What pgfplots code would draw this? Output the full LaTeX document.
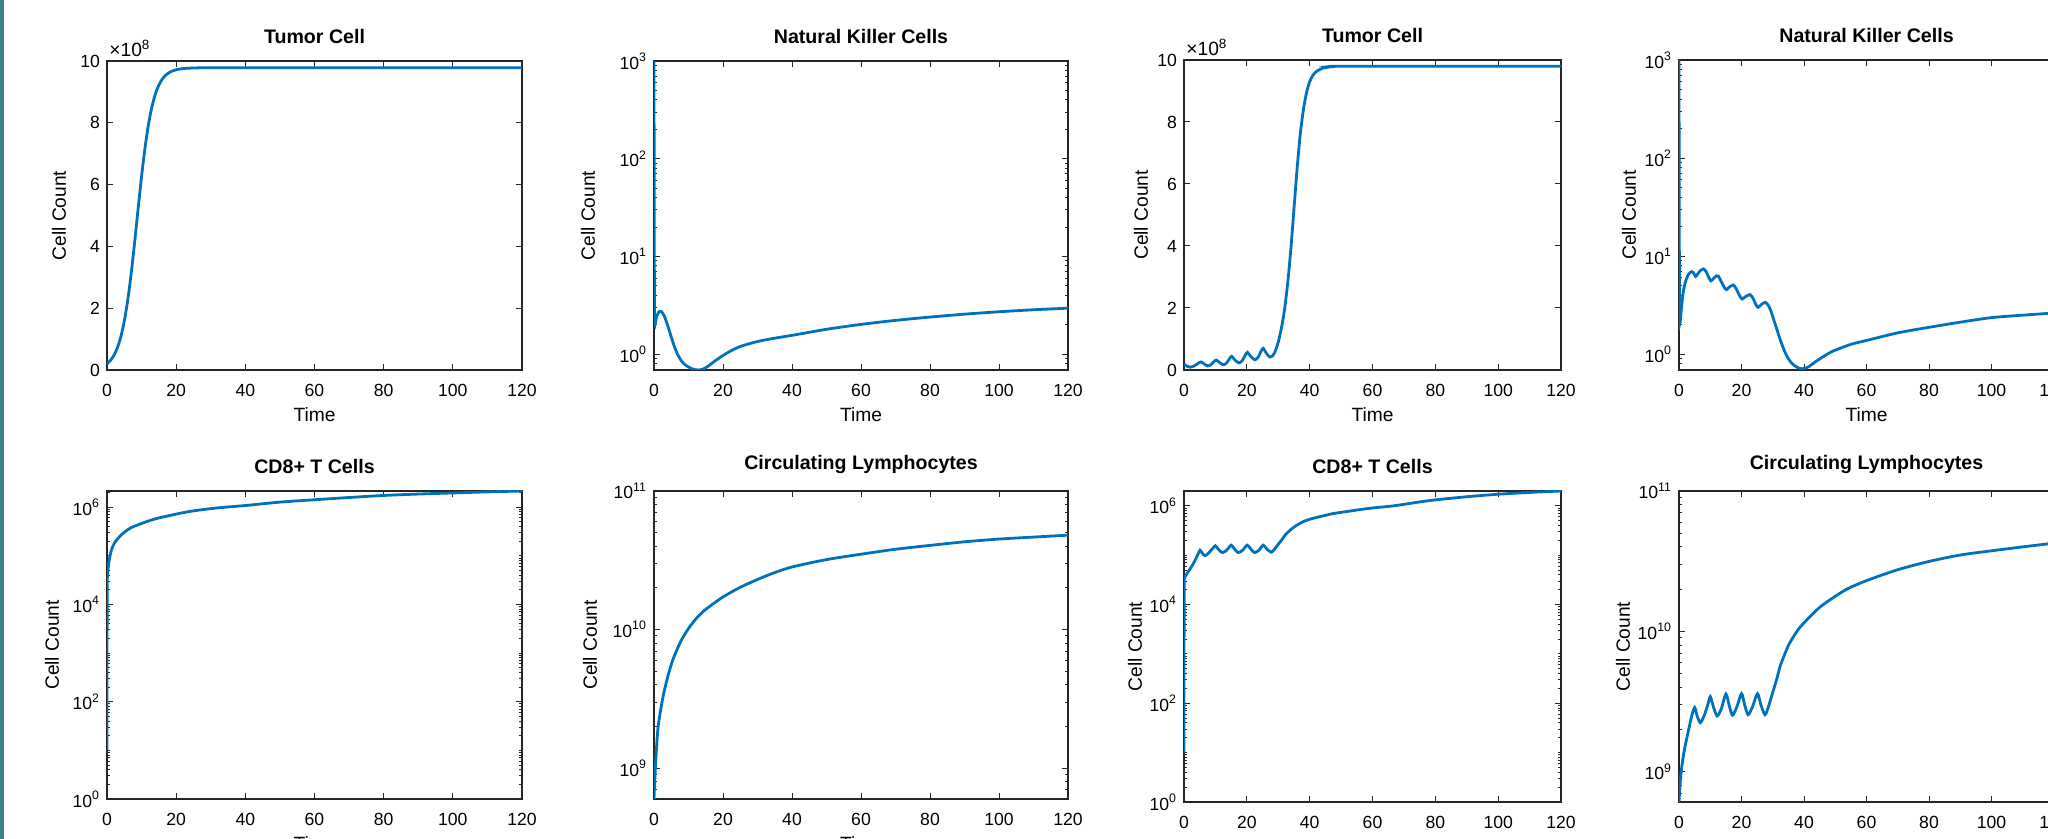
\documentclass[border=0pt]{standalone}
\usepackage{fontspec}
\setmainfont{Liberation Sans}
\usepackage{pgfplots}
\pgfplotsset{compat=1.18}
\definecolor{mblue}{HTML}{0072BD}
\definecolor{axgray}{HTML}{262626}
\definecolor{stripcol}{HTML}{3A8085}

\newcommand{\tk}[1]{10\textsuperscript{#1}}

\pgfplotsset{
  mat/.style={
    scale only axis, anchor=south west, clip mode=individual,
    xmin=0, xmax=120, xtick={0,20,...,120},
    axis line style={axgray, line width=0.6pt},
    every tick/.style={axgray, line width=0.5pt},
    tick align=inside,
    major tick length=3pt, minor tick length=1.7pt,
    tick label style={font=\fontsize{8.8}{10}\selectfont, text=black},
    xticklabel style={yshift=-3.5pt},
    yticklabel style={xshift=0pt},
    title style={font=\fontsize{9.8}{11}\selectfont\bfseries, yshift=-1pt},
    xlabel={Time}, ylabel={Cell Count},
    every axis x label/.style={at={([yshift=-18.5pt]axis description cs:0.5,0)},
      anchor=north, inner sep=0pt, font=\fontsize{9.6}{11}\selectfont},
    every axis y label/.style={at={([xshift=-#1]axis description cs:0,0.5)},
      anchor=center, rotate=90, inner sep=0pt, font=\fontsize{9.6}{11}\selectfont},
    /pgf/number format/assume math mode=true,
  },
  cv/.style={mblue, line width=1.4pt, smooth, tension=0.45, mark=none},
  /pgfplots/nkticks/.style={ymin=0.69, ymax=1000, ytick={1,10,100,1000},
    yticklabels={\tk{0},\tk{1},\tk{2},\tk{3}},
    minor ytick={0.7,0.8,0.9,2,3,4,5,6,7,8,9,20,30,40,50,60,70,80,90,200,300,400,500,600,700,800,900}},
  /pgfplots/cdticks/.style={ymin=1, ytick={1,100,1e4,1e6},
    yticklabels={\tk{0},\tk{2},\tk{4},\tk{6}},
    minor ytick={2,3,4,5,6,7,8,9,10,20,30,40,50,60,70,80,90,200,300,400,500,600,700,800,900,1000,
      2000,3000,4000,5000,6000,7000,8000,9000,2e4,3e4,4e4,5e4,6e4,7e4,8e4,9e4,1e5,
      2e5,3e5,4e5,5e5,6e5,7e5,8e5,9e5,2e6}},
  /pgfplots/clticks/.style={ymax=1e11, ytick={1e9,1e10,1e11},
    yticklabels={\tk{9},\tk{10},\tk{11}},
    minor ytick={7e8,8e8,9e8,2e9,3e9,4e9,5e9,6e9,7e9,8e9,9e9,2e10,3e10,4e10,5e10,6e10,7e10,8e10,9e10}},
}

\begin{document}
\begin{tikzpicture}
\useasboundingbox (0,0) rectangle (1024pt,419.5pt);
\clip (0,0) rectangle (1024pt,419.5pt);
\fill[stripcol] (0,0) rectangle (2.1pt,419.5pt);

% ---------- top row ----------
\begin{axis}[mat=24pt, at={(53.5pt,234.5pt)}, width=207.5pt, height=154.5pt,
  ymin=0, ymax=10, ytick={0,2,...,10}, title={Tumor Cell}]
\addplot[cv] coordinates {
(0,0.200) (1,0.309) (2,0.473) (3,0.719) (4,1.077) (5,1.584) (6,2.265) (7,3.129)
(8,4.139) (9,5.221) (10,6.271) (11,7.198) (12,7.952) (13,8.524) (14,8.936)
(15,9.222) (16,9.415) (17,9.543) (18,9.627) (19,9.681) (20,9.716) (22,9.754)
(25,9.773) (30,9.78) (60,9.78) (120,9.78)
};
\node[anchor=south west, inner sep=0pt, xshift=1pt, yshift=2pt,
  font=\fontsize{9.6}{10}\selectfont] at (rel axis cs:0,1) {×10\textsuperscript{8}};
\end{axis}

\begin{axis}[ymode=log, mat=33pt, nkticks, at={(327pt,234.5pt)}, width=207pt, height=154.5pt,
  title={Natural Killer Cells}]
\addplot[cv] coordinates {
(0,1000) (0.05,60) (0.12,4) (0.25,2.05) (0.6,2.3) (1.0,2.55) (1.6,2.75) (2.2,2.72)
(3,2.45) (4,1.95) (5,1.5) (6,1.17) (7,0.97) (8,0.85) (9,0.78) (10,0.74) (11,0.71)
(12,0.695) (13,0.69) (14,0.7) (15,0.73) (16,0.77) (18,0.87) (20,0.97) (22,1.07)
(25,1.2) (30,1.35) (35,1.46) (40,1.56) (50,1.8) (60,2.02) (70,2.22) (80,2.4)
(90,2.57) (100,2.72) (110,2.85) (120,2.96)
};
\end{axis}

\begin{axis}[mat=21.5pt, at={(592pt,234.5pt)}, width=188.5pt, height=155pt,
  ymin=0, ymax=10, ytick={0,2,...,10}, title={Tumor Cell}]
\addplot[cv] coordinates {
(0,0.19) (1,0.12) (2,0.09) (3,0.12) (4,0.18) (5,0.25) (5.5,0.26) (6.5,0.19)
(7.5,0.13) (8.5,0.16) (9.5,0.27) (10.3,0.32) (11.3,0.24) (12.5,0.17) (13.5,0.22)
(14.5,0.37) (15.2,0.44) (16.2,0.32) (17.5,0.23) (18.5,0.3) (19.5,0.48) (20.2,0.57)
(21.2,0.44) (22.5,0.33) (23.5,0.4) (24.5,0.6) (25.2,0.7) (26.2,0.54) (27.3,0.42)
(28.2,0.46) (29,0.6) (30,0.9) (31,1.35) (32,1.95) (33,2.8) (34,3.9) (35,5.2)
(36,6.5) (37,7.6) (38,8.4) (39,8.95) (40,9.3) (41,9.5) (42,9.62) (44,9.73)
(47,9.78) (52,9.8) (120,9.8)
};
\node[anchor=south west, inner sep=0pt, xshift=1pt, yshift=2pt,
  font=\fontsize{9.6}{10}\selectfont] at (rel axis cs:0,1) {×10\textsuperscript{8}};
\end{axis}

\begin{axis}[ymode=log, mat=25pt, nkticks, at={(839.5pt,234.5pt)}, width=187.5pt, height=155pt,
  title={Natural Killer Cells}]
\addplot[cv] coordinates {
(0,1000) (0.05,60) (0.15,4) (0.3,2.1) (0.8,3.0) (1.3,4.2) (2,5.4) (3,6.5) (4,6.95)
(4.6,6.8) (5.3,6.2) (6,6.6) (7,7.2) (7.8,7.4) (8.6,7.0) (9.5,6.1) (10.2,5.6)
(11,5.9) (12,6.3) (12.6,6.25) (13.5,5.5) (14.5,4.8) (15.2,4.55) (16,4.8)
(17.3,5.08) (18.2,4.7) (19.3,4.0) (20.2,3.65) (21.2,3.85) (22.7,4.05) (23.7,3.7)
(24.6,3.2) (25.3,3.0) (26.3,3.2) (27.6,3.38) (28.7,3.1) (29.5,2.7) (30.3,2.25)
(31.3,1.8) (32.3,1.43) (33.3,1.17) (34.4,0.97) (35.5,0.85) (36.6,0.78) (38,0.73)
(39.3,0.71) (40.5,0.72) (41.9,0.76) (43.5,0.83) (45.1,0.9) (47,0.98) (49.4,1.08)
(55,1.26) (60,1.38) (70,1.65) (80,1.88) (90,2.12) (100,2.36) (110,2.5) (120,2.63)
};
\end{axis}

% ---------- bottom row ----------
\begin{axis}[ymode=log, mat=27.5pt, cdticks, ymax=2.15e6, at={(53.5pt,20pt)}, width=207.5pt, height=154pt,
  title={CD8+ T Cells}]
\addplot[cv] coordinates {
(0,10) (0.02,1000) (0.05,1.5e4) (0.1,3.6e4) (0.3,5.5e4) (0.6,7.8e4) (1,1.1e5)
(1.5,1.46e5) (2.2,1.85e5) (3,2.2e5) (4,2.65e5) (5.4,3.2e5) (7,3.8e5) (9.2,4.4e5)
(12,5.2e5) (15,6e5) (20.8,7.4e5) (25,8.4e5) (30.4,9.4e5) (35,1.01e6) (40,1.08e6)
(50,1.27e6) (60,1.42e6) (70,1.58e6) (80,1.74e6) (90,1.86e6) (100,1.96e6)
(110,2.06e6) (120,2.15e6)
};
\end{axis}

\begin{axis}[ymode=log, mat=32pt, clticks, ymin=6e8, at={(327pt,20pt)}, width=207pt, height=154pt,
  title={Circulating Lymphocytes}]
\addplot[cv] coordinates {
(0,6e8) (0.2,8e8) (0.4,1.0e9) (0.8,1.5e9) (1.2,2e9) (2,2.7e9) (2.8,3.45e9)
(4,4.6e9) (5.4,6e9) (7,7.5e9) (8.5,8.9e9) (10.5,1.06e10) (12.6,1.23e10)
(15,1.4e10) (20,1.72e10) (25,2.02e10) (30,2.3e10) (35,2.58e10) (40,2.83e10)
(50,3.2e10) (60,3.5e10) (70,3.8e10) (80,4.05e10) (90,4.3e10) (100,4.5e10)
(110,4.65e10) (120,4.8e10)
};
\end{axis}

\begin{axis}[ymode=log, mat=24.5pt, cdticks, ymax=2.0e6, at={(592pt,18.5pt)}, width=188.5pt, height=155.5pt,
  title={CD8+ T Cells}]
\addplot[cv] coordinates {
(0,10) (0.02,1000) (0.05,2e4) (0.1,3.3e4) (0.8,4.1e4) (1.6,4.9e4) (3.2,7.2e4)
(4.3,1.0e5) (5.1,1.26e5) (5.8,1.1e5) (6.7,9.8e4) (7.8,1.1e5) (9,1.35e5) (10,1.55e5)
(11,1.3e5) (12.2,1.13e5) (13.5,1.25e5) (15,1.6e5) (16,1.35e5) (17.2,1.13e5)
(18.6,1.25e5) (20.1,1.6e5) (21.2,1.35e5) (22.4,1.13e5) (23.8,1.25e5) (25.2,1.6e5)
(26.3,1.35e5) (27.7,1.15e5) (28.7,1.3e5) (29.6,1.55e5) (31,2e5) (32.3,2.6e5)
(34,3.3e5) (36,4.1e5) (38,4.8e5) (40.2,5.4e5) (44,6.2e5) (47.6,7e5) (52,7.7e5)
(56,8.4e5) (61,9.2e5) (66.7,1.0e6) (75,1.2e6) (80,1.32e6) (90,1.53e6)
(100,1.72e6) (110,1.87e6) (120,2.0e6)
};
\end{axis}

\begin{axis}[ymode=log, mat=28pt, clticks, ymin=6.1e8, at={(839.5pt,18.5pt)}, width=187.5pt, height=155.5pt,
  title={Circulating Lymphocytes}]
\addplot[cv] coordinates {
(0,6.1e8) (0.3,8e8) (0.75,1.03e9) (1.5,1.35e9) (2.35,1.68e9) (3.2,2.05e9)
(4,2.47e9) (5,2.87e9) (5.8,2.5e9) (6.8,2.24e9) (8,2.5e9) (9.2,3.0e9) (10,3.43e9)
(11,2.9e9) (12.2,2.5e9) (13.5,2.8e9) (15,3.58e9) (16,3.0e9) (17.1,2.53e9)
(18.5,2.9e9) (20,3.6e9) (21,3.0e9) (22.1,2.55e9) (23.5,2.9e9) (25.1,3.6e9)
(26.2,3.0e9) (27.5,2.55e9) (28.6,2.9e9) (30.2,3.82e9) (31.3,4.6e9) (32.3,5.6e9)
(33.5,6.6e9) (35,7.95e9) (36.8,9.3e9) (38.7,1.07e10) (42,1.28e10) (45.1,1.49e10)
(49,1.72e10) (53.7,2.0e10) (60,2.3e10) (70,2.75e10) (80,3.15e10) (90,3.5e10)
(100,3.75e10) (110,4.0e10) (120,4.25e10)
};
\end{axis}
\end{tikzpicture}
\end{document}
